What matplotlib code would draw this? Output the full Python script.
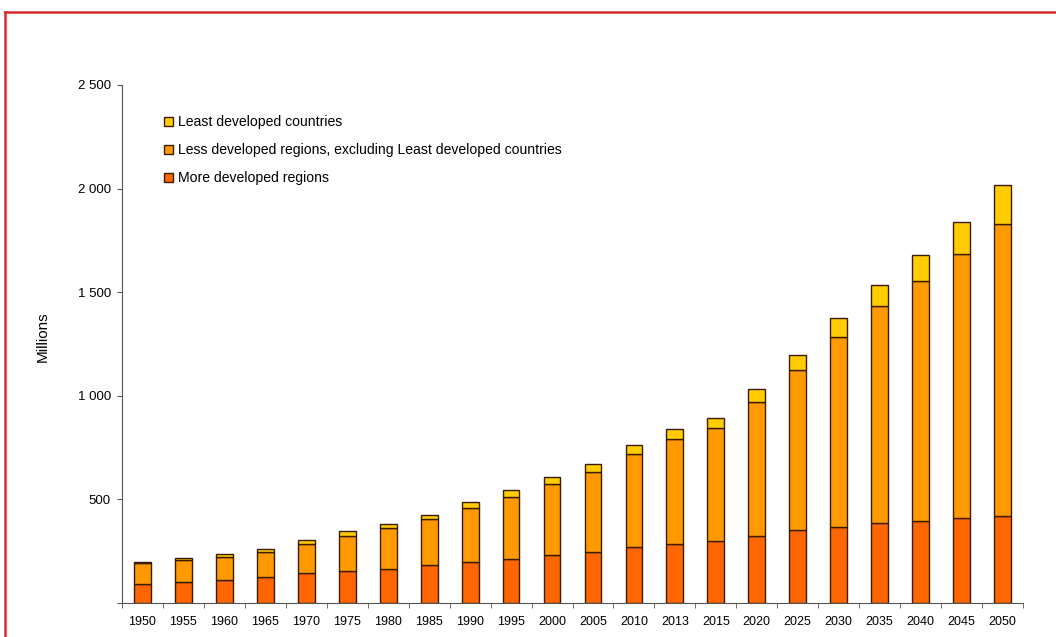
import numpy as np
import matplotlib
matplotlib.use("Agg")
import matplotlib.pyplot as plt
from matplotlib.lines import Line2D
from matplotlib.patches import Patch

# persons aged 60+, millions
years = ["1950", "1955", "1960", "1965", "1970", "1975", "1980", "1985", "1990", "1995",
         "2000", "2005", "2010", "2013", "2015", "2020", "2025", "2030", "2035", "2040",
         "2045", "2050"]
more_dev = [90, 101, 113, 125, 143, 156, 166, 183, 196, 214,
            232, 245, 269, 285, 298, 325, 351, 368, 386, 397, 409, 421]
less_dev_excl = [103, 106, 109, 121, 144, 169, 195, 222, 264, 296,
                 342, 386, 450, 506, 545, 645, 774, 916, 1049, 1157, 1275, 1410]
least_dev = [7, 8, 13, 16, 16, 23, 22, 22, 28, 34,
             32, 40, 44, 49, 48, 63, 72, 90, 101, 124, 156, 186]

plt.rcParams['font.family'] = ['Liberation Sans', 'DejaVu Sans']
fam = ['Liberation Sans', 'DejaVu Sans']

fig = plt.figure(figsize=(10.56, 6.37), dpi=100)
ax = fig.add_axes([122 / 1056, 34 / 637, (1023 - 122) / 1056, (603 - 85) / 637])

x = np.arange(len(years))
more = np.array(more_dev)
less = np.array(less_dev_excl)
least = np.array(least_dev)

c_more, c_less, c_least = "#FF6600", "#FF9900", "#FFCC00"
edge = "#3a1a00"
w = 0.41
ax.bar(x, more, w, color=c_more, edgecolor=edge, linewidth=1)
ax.bar(x, less, w, bottom=more, color=c_less, edgecolor=edge, linewidth=1)
ax.bar(x, least, w, bottom=more + less, color=c_least, edgecolor=edge, linewidth=1)

ax.set_xlim(-0.5, len(years) - 0.5)
ax.set_ylim(0, 2500)

ax.set_yticks([0, 500, 1000, 1500, 2000, 2500])
ax.set_yticklabels(["", "500", "1 000", "1 500", "2 000", "2 500"], fontsize=9.5, family=fam)
ax.set_xticks(x)
ax.set_xticklabels(years, fontsize=9, family=fam)
ax.tick_params(axis='x', which='major', length=0, pad=9.5)
ax.set_xticks(np.arange(-0.5, len(years)), minor=True)
ax.tick_params(axis='x', which='minor', length=3.6, direction='out', color="#555555")
ax.tick_params(axis='y', length=3.6, direction='out', color="#555555", pad=4.3)

for s in ["top", "right"]:
    ax.spines[s].set_visible(False)
for s in ["left", "bottom"]:
    ax.spines[s].set_color("#555555")

ax.set_ylabel("Millions", fontsize=11, family=fam)
ax.yaxis.set_label_coords(-0.08, 0.515)

handles = [Patch(facecolor=c_least, edgecolor=edge, label="Least developed countries"),
           Patch(facecolor=c_less, edgecolor=edge,
                 label="Less developed regions, excluding Least developed countries"),
           Patch(facecolor=c_more, edgecolor=edge, label="More developed regions")]
ax.legend(handles=handles, loc="upper left", bbox_to_anchor=(0.033, 0.966), frameon=False,
          handlelength=0.6, handleheight=0.6, handletextpad=0.35,
          labelspacing=1.0, prop={'family': fam, 'size': 10.1})

# red frame around the figure
fig.add_artist(Line2D([5 / 1056, 1.0], [1 - 12 / 637, 1 - 12 / 637], color="#d42a2a", lw=1.8))
fig.add_artist(Line2D([5 / 1056, 5 / 1056], [0, 1 - 12 / 637], color="#d42a2a", lw=1.8))

fig.savefig("out.png", dpi=100)
